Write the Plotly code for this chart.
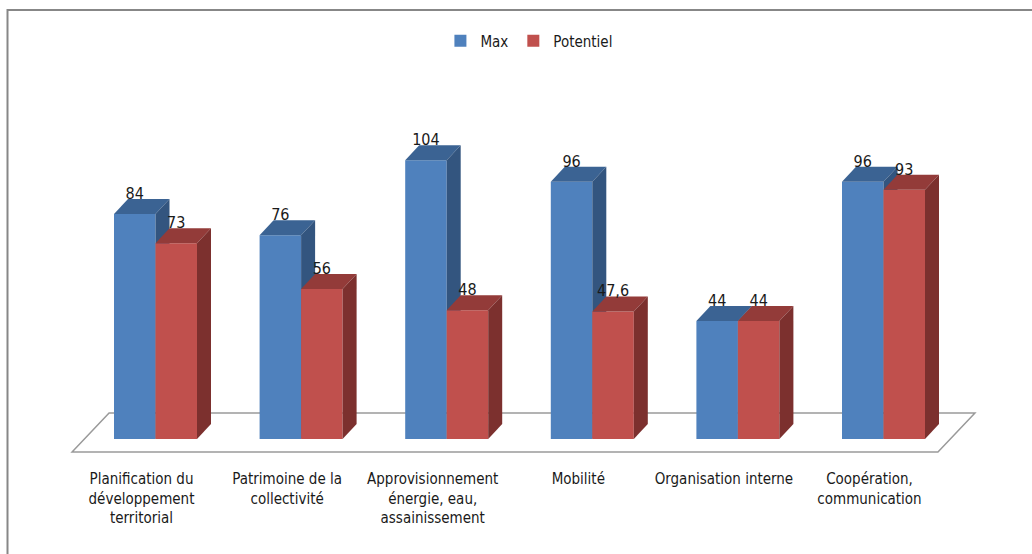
import plotly.graph_objects as go

# ---- data -------------------------------------------------------------
CATEGORIES = [
    "Planification du<br>développement<br>territorial",
    "Patrimoine de la<br>collectivité",
    "Approvisionnement<br>énergie, eau,<br>assainissement",
    "Mobilité",
    "Organisation interne",
    "Coopération,<br>communication",
]
SERIES_NAMES = ["Max", "Potentiel"]
MAX_VALUES = [84, 76, 104, 96, 44, 96]
POTENTIEL_VALUES = [73, 56, 48, 47.6, 44, 93]

# ---- styling / geometry -------------------------------------------------
W, H = 1032, 554
FONT = "DejaVu Sans Condensed, Liberation Sans Narrow, sans-serif"
TEXT_COLOR = "#1a1a1a"

PX_PER_CAT = 145.6      # horizontal pixels per category
CAT0_PX = 155.5         # pixel x of first category centre
PX_PER_UNIT = 2.68      # vertical pixels per value unit
BASE_PX = 439           # pixel y of the value 0 baseline

BAR_W = 41.5 / PX_PER_CAT          # bar width in category units
DEPTH_X = 14 / PX_PER_CAT          # 3-D depth, horizontal component
DEPTH_Y = 15 / PX_PER_UNIT         # 3-D depth, vertical component
LABEL_LIFT = 11 / PX_PER_UNIT      # value label anchor above the bar front top

COLORS = {
    "Max": {"front": "#4F81BD", "top": "#3B6393", "side": "#33557F"},
    "Potentiel": {"front": "#C0504D", "top": "#933B39", "side": "#7C302E"},
}

X_RANGE = [-CAT0_PX / PX_PER_CAT, (W - CAT0_PX) / PX_PER_CAT]
Y_RANGE = [-(H - BASE_PX) / PX_PER_UNIT, BASE_PX / PX_PER_UNIT]

# floor plate of the 3-D chart (front edge and depth shift)
FLOOR_FRONT_X = [-0.573, 5.374]
FLOOR_FRONT_Y = -13 / PX_PER_UNIT
FLOOR_SHIFT_X = 37 / PX_PER_CAT
FLOOR_SHIFT_Y = 39 / PX_PER_UNIT


def fmt(v):
    return f"{v:g}".replace(".", ",")


def add_series(fig, name, values, offset, xref, yref):
    col = COLORS[name]
    idx = list(range(len(values)))
    # front faces
    fig.add_trace(go.Bar(
        x=idx, y=values, offset=offset, width=BAR_W, name=name,
        marker=dict(color=col["front"], line=dict(width=0)),
        xaxis=xref, yaxis=yref, hoverinfo="skip",
    ))
    # top and side faces, built from each bar's value
    for i, v in enumerate(values):
        x0 = i + offset
        x1 = x0 + BAR_W
        top_x = [x0, x0 + DEPTH_X, x1 + DEPTH_X, x1, x0]
        top_y = [v, v + DEPTH_Y, v + DEPTH_Y, v, v]
        side_x = [x1, x1, x1 + DEPTH_X, x1 + DEPTH_X, x1]
        side_y = [0, v, v + DEPTH_Y, DEPTH_Y, 0]
        for fx, fy, c in ((top_x, top_y, col["top"]), (side_x, side_y, col["side"])):
            fig.add_trace(go.Scatter(
                x=fx, y=fy, mode="lines", fill="toself", fillcolor=c,
                line=dict(width=0, color=c), showlegend=False,
                xaxis=xref, yaxis=yref, hoverinfo="skip",
            ))


fig = go.Figure()
add_series(fig, "Max", MAX_VALUES, -BAR_W, "x", "y")
add_series(fig, "Potentiel", POTENTIEL_VALUES, 0.0, "x2", "y2")

# value labels above each bar
for values, offset in ((MAX_VALUES, -BAR_W), (POTENTIEL_VALUES, 0.0)):
    fig.add_trace(go.Scatter(
        x=[i + offset + BAR_W / 2 for i in range(len(values))],
        y=[v + LABEL_LIFT for v in values],
        mode="text", text=[fmt(v) for v in values],
        textposition="top center",
        textfont=dict(family=FONT, size=16, color=TEXT_COLOR),
        showlegend=False, hoverinfo="skip", xaxis="x2", yaxis="y2",
        cliponaxis=False,
    ))

# floor plate
fx0, fx1 = FLOOR_FRONT_X
fy0 = FLOOR_FRONT_Y
floor_path = (
    f"M {fx0},{fy0} L {fx1},{fy0} "
    f"L {fx1 + FLOOR_SHIFT_X},{fy0 + FLOOR_SHIFT_Y} "
    f"L {fx0 + FLOOR_SHIFT_X},{fy0 + FLOOR_SHIFT_Y} Z"
)
fig.add_shape(type="path", path=floor_path, xref="x", yref="y",
              line=dict(color="#9A9A9A", width=1.5), layer="below")

# chart frame
fig.add_shape(type="rect", xref="paper", yref="paper",
              x0=7.5 / W, x1=1.05, y0=-0.05, y1=1 - 10 / H,
              line=dict(color="#878787", width=2), layer="below")

fig.update_layout(
    width=W, height=H,
    margin=dict(l=0, r=0, t=0, b=0),
    paper_bgcolor="white", plot_bgcolor="rgba(0,0,0,0)",
    font=dict(family=FONT, size=15, color=TEXT_COLOR),
    showlegend=True,
    legend=dict(orientation="h", x=0.513, xanchor="center",
                y=1 - 41 / H, yanchor="middle",
                font=dict(family=FONT, size=15, color=TEXT_COLOR),
                bgcolor="rgba(0,0,0,0)", itemwidth=30, tracegroupgap=0),
    xaxis=dict(range=X_RANGE, tickvals=list(range(len(CATEGORIES))),
               ticktext=CATEGORIES, anchor="free", position=1 - 468 / H,
               showgrid=False, zeroline=False, showline=False, ticks="",
               ticklabelshift=-14,
               tickfont=dict(family=FONT, size=15, color=TEXT_COLOR)),
    yaxis=dict(range=Y_RANGE, visible=False),
    xaxis2=dict(range=X_RANGE, overlaying="x", visible=False),
    yaxis2=dict(range=Y_RANGE, overlaying="y", visible=False),
    barmode="overlay",
)

fig.write_html("out.html")
